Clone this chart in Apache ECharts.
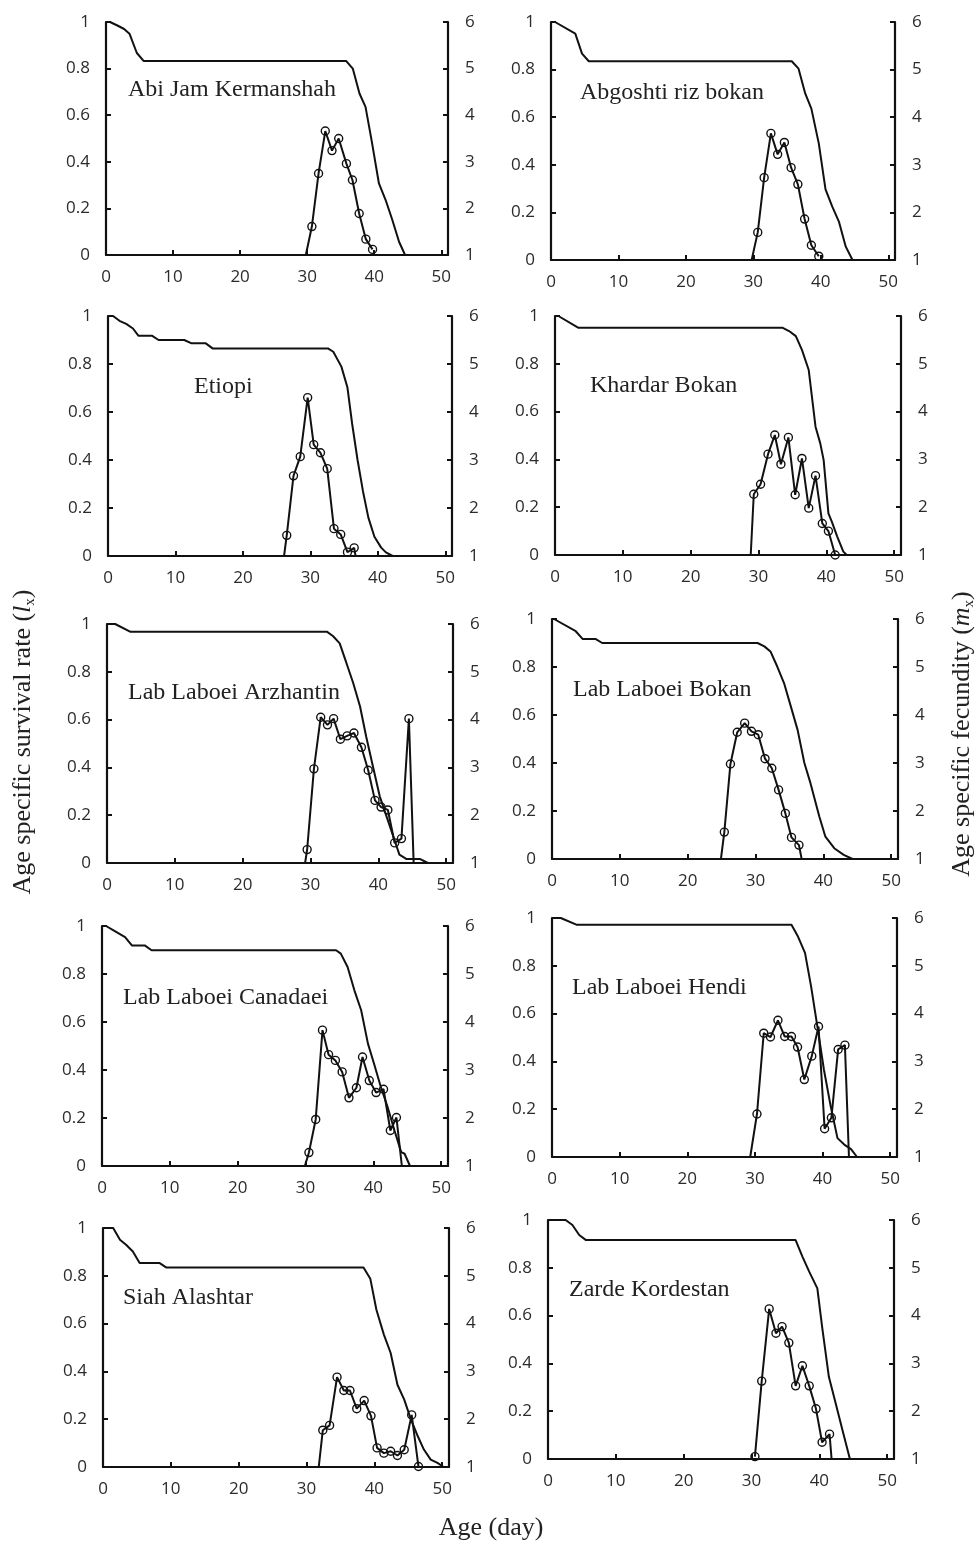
<!DOCTYPE html>
<html>
<head>
<meta charset="utf-8">
<script src="https://cdn.jsdelivr.net/npm/echarts/dist/echarts.min.js"></script>
<style>
  html, body { margin: 0; padding: 0; background: #fff; }
  #chart { width: 978px; height: 1546px; }
</style>
</head>
<body>
<div id="chart"></div>
<script>
// cultivar names, one panel each
const panelNames = ['Abi Jam Kermanshah', 'Abgoshti riz bokan', 'Etiopi', 'Khardar Bokan',
  'Lab Laboei Arzhantin', 'Lab Laboei Bokan', 'Lab Laboei Canadaei', 'Lab Laboei Hendi',
  'Siah Alashtar', 'Zarde Kordestan'];

const xTicks = [0, 10, 20, 30, 40, 50];
const lxTicks = [0, 0.2, 0.4, 0.6, 0.8, 1];
const mxTicks = [1, 2, 3, 4, 5, 6];

// survival rate lx (age, value)
const lxAges = [
  [0, 0.6, 1.7, 2.7, 3.5, 4.6, 5.6, 35.8, 36.8, 37.8, 38.7, 39.6, 40.7, 41.7, 42.7, 43.7, 44.6],
  [0, 0.6, 3.6, 4.6, 5.6, 35.7, 36.7, 37.7, 38.6, 39.7, 40.7, 41.7, 42.7, 43.7, 44.7],
  [0, 0.75, 1.7, 2.7, 3.7, 4.5, 6.5, 7.5, 11.3, 12.4, 14.5, 15.5, 32.6, 33.4, 34.6, 35.5, 36.2, 37.0, 37.8, 38.6, 39.5, 40.5, 41.2, 42.2],
  [0, 0.5, 3.4, 33.5, 34.5, 35.5, 36.4, 37.4, 38.4, 39.1, 39.6, 40.3, 40.8, 41.6, 42.5, 43],
  [0, 1.2, 3.4, 32.4, 33.3, 34.3, 35.3, 36.3, 37.3, 38.2, 39.2, 40.2, 41.2, 42.2, 43.1, 44.1, 46.1, 47.3],
  [0, 0.3, 3.5, 4.5, 6.4, 7.4, 30.3, 31.3, 32.2, 33.2, 34.2, 35.2, 36.2, 37.2, 38.1, 39.4, 40.3, 41.6, 43, 44.3],
  [0, 0.6, 1.7, 3.4, 4.4, 6.3, 7.3, 34.5, 35.2, 36.2, 37.2, 38.2, 39.2, 40.1, 41.1, 42.1, 43.1, 44.1, 44.6, 45.4],
  [0, 1.3, 3.6, 35.4, 36.3, 37.4, 38.3, 39.3, 40.2, 41.2, 42.2, 43.2, 44.2, 45.1],
  [0, 1.5, 2.5, 3.4, 4.4, 5.4, 8.3, 9.3, 38.4, 39.4, 40.3, 41.4, 42.4, 43.4, 44.4, 45.4, 46.3, 47.3, 48.3, 49.3, 50.2],
  [0, 2.6, 3.6, 4.6, 5.6, 36.5, 37.5, 38.5, 39.7, 40.4, 41.4, 42.4, 43.4, 44.5]
];
const lxRates = [
  [1, 1, 0.985, 0.97, 0.95, 0.867, 0.833, 0.833, 0.8, 0.693, 0.636, 0.493, 0.307, 0.236, 0.15, 0.057, 0],
  [1, 1, 0.951, 0.867, 0.835, 0.835, 0.804, 0.699, 0.636, 0.49, 0.297, 0.224, 0.16, 0.056, 0],
  [1, 1, 0.98, 0.967, 0.948, 0.918, 0.918, 0.9, 0.9, 0.886, 0.886, 0.865, 0.865, 0.851, 0.789, 0.702, 0.55, 0.4, 0.27, 0.16, 0.08, 0.035, 0.015, 0],
  [1, 1, 0.951, 0.951, 0.937, 0.916, 0.858, 0.774, 0.537, 0.467, 0.397, 0.174, 0.14, 0.077, 0.014, 0],
  [1, 1, 0.968, 0.968, 0.95, 0.919, 0.836, 0.752, 0.655, 0.529, 0.404, 0.279, 0.195, 0.111, 0.035, 0.017, 0.017, 0],
  [1, 1, 0.949, 0.917, 0.917, 0.9, 0.9, 0.886, 0.865, 0.802, 0.733, 0.636, 0.538, 0.4, 0.316, 0.177, 0.093, 0.045, 0.017, 0],
  [1, 1, 0.982, 0.954, 0.919, 0.919, 0.899, 0.899, 0.885, 0.829, 0.732, 0.649, 0.51, 0.426, 0.329, 0.246, 0.149, 0.058, 0.051, 0],
  [1, 1, 0.972, 0.972, 0.926, 0.854, 0.714, 0.533, 0.365, 0.212, 0.079, 0.052, 0.033, 0],
  [1, 1, 0.951, 0.93, 0.902, 0.854, 0.854, 0.835, 0.835, 0.788, 0.658, 0.554, 0.477, 0.344, 0.282, 0.198, 0.135, 0.073, 0.031, 0.017, 0],
  [1, 1, 0.979, 0.937, 0.916, 0.916, 0.847, 0.784, 0.714, 0.554, 0.344, 0.233, 0.121, 0]
];

// fecundity mx (right axis scale), marked points
const mxAges = [
  [30.7, 31.7, 32.7, 33.7, 34.7, 35.85, 36.75, 37.75, 38.75, 39.75],
  [30.65, 31.6, 32.6, 33.6, 34.6, 35.6, 36.6, 37.6, 38.6, 39.7],
  [26.5, 27.5, 28.5, 29.6, 30.5, 31.5, 32.5, 33.5, 34.5, 35.5, 36.5],
  [29.3, 30.3, 31.4, 32.4, 33.3, 34.4, 35.4, 36.4, 37.4, 38.4, 39.4, 40.3, 41.3],
  [29.5, 30.5, 31.5, 32.5, 33.4, 34.4, 35.4, 36.4, 37.5, 38.5, 39.5, 40.4, 41.4, 42.4, 43.4, 44.5],
  [25.4, 26.3, 27.3, 28.4, 29.4, 30.4, 31.4, 32.4, 33.4, 34.4, 35.3, 36.4],
  [30.5, 31.5, 32.5, 33.4, 34.4, 35.4, 36.4, 37.5, 38.4, 39.4, 40.4, 41.5, 42.5, 43.4],
  [30.3, 31.3, 32.3, 33.4, 34.4, 35.4, 36.3, 37.3, 38.4, 39.4, 40.3, 41.3, 42.3, 43.3],
  [32.4, 33.4, 34.5, 35.5, 36.4, 37.4, 38.5, 39.5, 40.4, 41.4, 42.4, 43.4, 44.4, 45.5, 46.5],
  [30.5, 31.5, 32.6, 33.6, 34.5, 35.5, 36.5, 37.5, 38.5, 39.5, 40.4, 41.5]
];
const mxValues = [
  [1.61, 2.75, 3.66, 3.24, 3.5, 2.96, 2.61, 1.89, 1.34, 1.12],
  [1.58, 2.73, 3.66, 3.22, 3.47, 2.94, 2.59, 1.86, 1.31, 1.08],
  [1.43, 2.67, 3.07, 4.3, 3.32, 3.15, 2.82, 1.57, 1.45, 1.08, 1.17],
  [2.27, 2.48, 3.11, 3.51, 2.9, 3.46, 2.26, 3.02, 1.98, 2.66, 1.66, 1.5, 1.0],
  [1.28, 2.97, 4.05, 3.89, 4.02, 3.59, 3.66, 3.72, 3.42, 2.94, 2.31, 2.17, 2.11, 1.42, 1.51, 4.02],
  [1.56, 2.98, 3.64, 3.83, 3.66, 3.59, 3.09, 2.89, 2.44, 1.95, 1.45, 1.29],
  [1.28, 1.97, 3.83, 3.32, 3.2, 2.96, 2.42, 2.63, 3.27, 2.78, 2.53, 2.6, 1.74, 2.01],
  [1.9, 3.59, 3.51, 3.86, 3.52, 3.52, 3.3, 2.62, 3.11, 3.73, 1.59, 1.82, 3.25, 3.34],
  [1.77, 1.87, 2.88, 2.6, 2.6, 2.22, 2.39, 2.07, 1.4, 1.29, 1.33, 1.24, 1.36, 2.09, 1.01],
  [1.05, 2.63, 4.14, 3.63, 3.77, 3.43, 2.53, 2.95, 2.53, 2.05, 1.35, 1.52]
];
// ages where the mx line leaves / returns to the baseline (no marker)
const mxStartAge = [29.8, 29.75, 26.1, 28.85, 29.2, 24.9, 29.9, 29.3, 31.8, null];
const mxEndAge = [null, null, 36.7, null, 45.2, 36.8, 44.2, 43.9, null, 41.8];

// layout: plot boxes [left, top, width, height] and name label spots
const boxes = [
  [106, 22, 342, 233], [551, 22, 344, 238],
  [108, 316, 344, 240], [555, 316, 346, 239],
  [107, 624, 346, 239], [552, 619, 346, 240],
  [102, 926, 346, 240], [552, 918, 345, 239],
  [103, 1228, 346, 239], [548, 1220, 346, 239]
];
const nameSpots = [
  [128, 90], [580, 93], [194, 387], [590, 386], [128, 693],
  [573, 690], [123, 998], [572, 988], [123, 1298], [569, 1290]
];

const serif = '"Liberation Serif", "Times New Roman", serif';
const sans = '"Open Sans", "Liberation Sans", sans-serif';
const ink = '#111';

const chart = echarts.init(document.getElementById('chart'));

const grid = [], xAxis = [], yAxis = [], series = [], graphic = [];
const axisLine = { show: true, onZero: false, lineStyle: { color: ink, width: 2.2 } };
const axisTick = { show: true, inside: true, length: 5, lineStyle: { color: ink, width: 2 } };
const labelBase = { color: '#2b2b2b', fontFamily: sans, fontSize: 17 };

panelNames.forEach((name, i) => {
  const b = boxes[i];
  grid.push({ left: b[0], top: b[1], width: b[2], height: b[3] });
  xAxis.push({
    gridIndex: i, type: 'value', min: xTicks[0], max: 51, interval: 10,
    axisLine, axisTick, splitLine: { show: false },
    axisLabel: Object.assign({}, labelBase, {
      margin: 14,
      formatter: v => (xTicks.indexOf(v) >= 0 ? String(v) : '')
    })
  });
  yAxis.push({
    gridIndex: i, type: 'value', position: 'left',
    min: lxTicks[0], max: lxTicks[lxTicks.length - 1], interval: 0.2,
    axisLine, axisTick, splitLine: { show: false },
    axisLabel: Object.assign({}, labelBase, { margin: 16, formatter: v => String(+v.toFixed(1)) })
  });
  yAxis.push({
    gridIndex: i, type: 'value', position: 'right',
    min: mxTicks[0], max: mxTicks[mxTicks.length - 1], interval: 1,
    axisLine, axisTick, splitLine: { show: false },
    axisLabel: Object.assign({}, labelBase, { margin: 17 })
  });

  series.push({
    type: 'line', xAxisIndex: i, yAxisIndex: 2 * i,
    data: lxAges[i].map((a, k) => [a, lxRates[i][k]]),
    symbol: 'none', showSymbol: false,
    lineStyle: { color: ink, width: 2 }
  });

  const pts = [];
  if (mxStartAge[i] !== null) pts.push({ value: [mxStartAge[i], 1], symbol: 'none' });
  mxAges[i].forEach((a, k) => pts.push([a, mxValues[i][k]]));
  if (mxEndAge[i] !== null) pts.push({ value: [mxEndAge[i], 1], symbol: 'none' });
  series.push({
    type: 'line', xAxisIndex: i, yAxisIndex: 2 * i + 1,
    data: pts, symbol: 'circle', symbolSize: 8, showSymbol: true,
    itemStyle: { color: 'rgba(255,255,255,0)', borderColor: ink, borderWidth: 1.4 },
    lineStyle: { color: ink, width: 2 }
  });

  graphic.push({
    type: 'text', x: nameSpots[i][0], y: nameSpots[i][1],
    style: { text: name, fontFamily: serif, fontSize: 24, fill: '#222',
      align: 'left', verticalAlign: 'middle', textAlign: 'left', textVerticalAlign: 'middle' }
  });
});

const titleRich = {
  n: { fontFamily: serif, fontSize: 26, fill: '#222', color: '#222', lineHeight: 30 },
  i: { fontFamily: serif, fontSize: 26, fontStyle: 'italic', fill: '#222', color: '#222', lineHeight: 30 },
  s: { fontFamily: serif, fontSize: 15, fill: '#222', color: '#222', verticalAlign: 'bottom', lineHeight: 30 }
};
graphic.push({
  type: 'text', x: 23, y: 742, rotation: Math.PI / 2,
  style: { text: '{n|Age specific survival rate (}{i|l}{s|x}{n|)}', rich: titleRich,
    align: 'center', verticalAlign: 'middle', textAlign: 'center', textVerticalAlign: 'middle' }
});
graphic.push({
  type: 'text', x: 962, y: 734, rotation: Math.PI / 2,
  style: { text: '{n|Age specific fecundity (}{i|m}{s|x}{n|)}', rich: titleRich,
    align: 'center', verticalAlign: 'middle', textAlign: 'center', textVerticalAlign: 'middle' }
});
graphic.push({
  type: 'text', x: 491, y: 1528,
  style: { text: 'Age (day)', fontFamily: serif, fontSize: 26, fill: '#222',
    align: 'center', verticalAlign: 'middle', textAlign: 'center', textVerticalAlign: 'middle' }
});

chart.setOption({
  animation: false,
  backgroundColor: '#fff',
  grid, xAxis, yAxis, series, graphic
});
</script>
</body>
</html>
